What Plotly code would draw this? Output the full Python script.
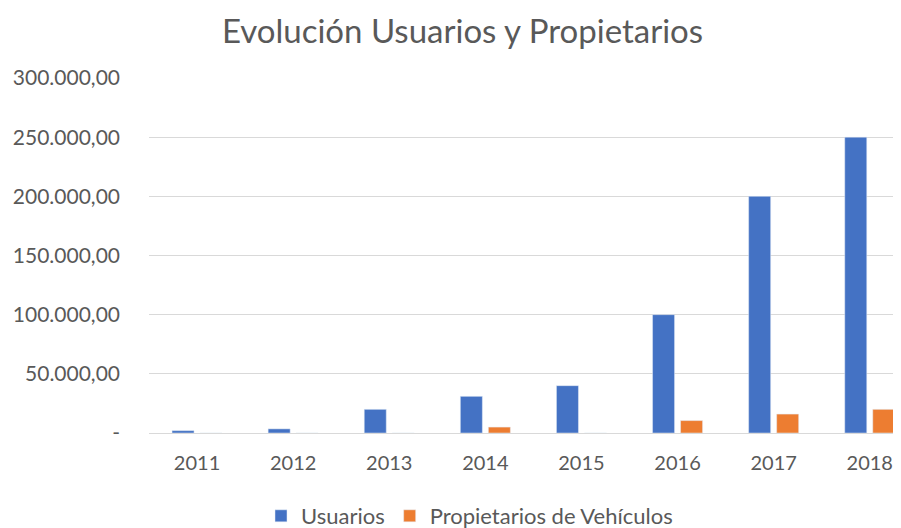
import plotly.graph_objects as go

years = ["2011", "2012", "2013", "2014", "2015", "2016", "2017", "2018"]
usuarios = [2000, 3500, 20000, 31000, 40000, 100000, 200000, 250000]
propietarios = [0, 0, 0, 5000, 0, 10500, 16000, 20000]
ytick_vals = [0, 50000, 100000, 150000, 200000, 250000, 300000]
ytick_text = ["-", "50.000,00", "100.000,00", "150.000,00", "200.000,00", "250.000,00", "300.000,00"]

FONT = "Lato"
TXT = "#595959"
W, H = 893, 520

fig = go.Figure()
fig.add_trace(go.Bar(x=years, y=usuarios, name="Usuarios", marker=dict(color="#4472C4")))
fig.add_trace(go.Bar(x=years, y=propietarios, name="Propietarios de Vehículos", marker=dict(color="#ED7D31")))

fig.update_layout(
    width=W, height=H,
    margin=dict(l=141, r=0, t=70, b=95, autoexpand=False),
    paper_bgcolor="white", plot_bgcolor="white",
    barmode="group", bargap=0.417, bargroupgap=0.214,
    title=dict(text="Evolución Usuarios y Propietarios", x=454.5 / W, xref="container", xanchor="center",
               y=1 - 23 / H, yref="container", yanchor="middle",
               font=dict(family=FONT, size=33, color=TXT)),
    font=dict(family=FONT, color=TXT, size=20),
    showlegend=True,
    legend=dict(orientation="h", x=253 / W, xref="container", xanchor="left",
                y=1 - 508 / H, yref="container", yanchor="middle",
                font=dict(family=FONT, size=22, color=TXT),
                bgcolor="rgba(0,0,0,0)"),
)
fig.update_xaxes(type="category", range=[-0.5, 7.325], showgrid=False, showline=True,
                 linecolor="#D9D9D9", linewidth=1, ticks="", ticklabelstandoff=12,
                 automargin=False,
                 tickfont=dict(family=FONT, size=20, color=TXT))
fig.update_yaxes(range=[0, 300000], tickvals=ytick_vals, ticktext=ytick_text,
                 showgrid=True, gridcolor="#D9D9D9", gridwidth=1, zeroline=False,
                 ticks="", ticklabelstandoff=28, showline=False, automargin=False,
                 tickfont=dict(family=FONT, size=21, color=TXT))

fig.write_html("out.html")
